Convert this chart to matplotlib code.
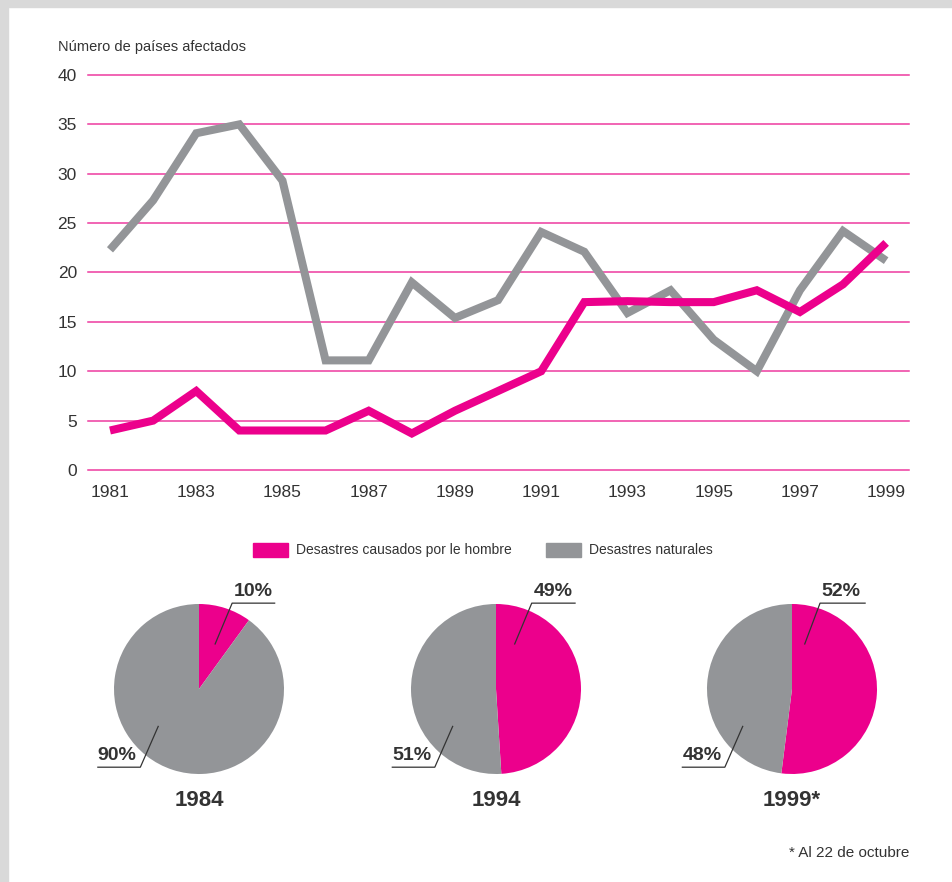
import matplotlib
matplotlib.use("Agg")
import matplotlib.pyplot as plt
from matplotlib.patches import Patch, Rectangle

# data
years = list(range(1981, 2000))
man_made = [4, 5, 8, 4, 4, 4, 6, 3.7, 6, 8, 10, 17, 17.1, 17, 17, 18.2, 16, 18.8, 23]
natural = [22.3, 27.3, 34.1, 35, 29.3, 11.1, 11.1, 19, 15.4, 17.2, 24.1, 22.1, 15.9, 18.2, 13.2, 10, 18.2, 24.2, 21.2]
yticks = [0, 5, 10, 15, 20, 25, 30, 35, 40]
xticks = [1981, 1983, 1985, 1987, 1989, 1991, 1993, 1995, 1997, 1999]

pie_years = ["1984", "1994", "1999*"]
pie_man = [10, 49, 52]
pie_nat = [90, 51, 48]

series_names = ["Desastres causados por le hombre", "Desastres naturales"]

PINK = "#EC008C"
GRAY = "#939598"
GRID = "#EE3B9F"
TXT = "#333333"
SANS = ["Liberation Sans", "DejaVu Sans"]

W, H = 953, 882
fig = plt.figure(figsize=(W / 100, H / 100), dpi=100)


def fx(px):
    return px / W


def fy(py):
    return 1 - py / H


# light gray frame on the left and top
fig.patches.append(Rectangle((0, 0), fx(8), 1, transform=fig.transFigure, color="#D9D9D9", zorder=0))
fig.patches.append(Rectangle((0, fy(7)), 1, 7 / H, transform=fig.transFigure, color="#D9D9D9", zorder=0))

# line chart
ax = fig.add_axes([fx(88), fy(470), fx(909 - 88), (470 - 75) / H])
for v in yticks:
    ax.axhline(v, color=GRID, lw=1.1, zorder=1, clip_on=False)
ax.plot(years, natural, color=GRAY, lw=5.8, solid_joinstyle="miter", solid_capstyle="butt", zorder=3, clip_on=False)
ax.plot(years, man_made, color=PINK, lw=5.8, solid_joinstyle="miter", solid_capstyle="butt", zorder=4, clip_on=False)
ax.set_xlim(1980.49, 1999.53)
ax.set_ylim(0, 40)
ax.set_yticks(yticks)
ax.set_xticks(xticks)
ax.tick_params(length=0)
ax.tick_params(axis="y", pad=8)
ax.tick_params(axis="x", pad=11)
for lab in ax.get_xticklabels() + ax.get_yticklabels():
    lab.set_family(SANS)
    lab.set_fontsize(12.5)
    lab.set_color(TXT)
for s in ax.spines.values():
    s.set_visible(False)

fig.text(fx(58), fy(47), "Número de países afectados", family=SANS, fontsize=10.5,
         color=TXT, va="center", ha="left")

# legend
handles = [Patch(color=PINK), Patch(color=GRAY)]
fig.legend(handles, series_names, loc="center", bbox_to_anchor=(fx(483), fy(550)), ncol=2,
           frameon=False, handlelength=2.5, handleheight=1.2, handletextpad=0.58,
           columnspacing=2.45, prop={"family": SANS, "size": 10}, labelcolor=TXT)

# pies
centers = [199, 496, 792]
R = 85
cy = 689
# label layout in radius units: leader end x, y, underline x-range
pink_lab = [(0.19, 0.53, 0.39, 0.89), (0.22, 0.53, 0.42, 0.93), (0.15, 0.53, 0.33, 0.86)]
gray_lab = [(-0.48, -0.44, -1.19, -0.69), (-0.51, -0.44, -1.22, -0.72), (-0.58, -0.44, -1.29, -0.79)]

for i, cx in enumerate(centers):
    pax = fig.add_axes([fx(cx - R), fy(cy + R), 2 * R / W, 2 * R / H])
    pax.pie([pie_man[i], pie_nat[i]], colors=[PINK, GRAY], startangle=90, counterclock=False,
            radius=1, wedgeprops={"linewidth": 0})
    pax.set_xlim(-1, 1)
    pax.set_ylim(-1, 1)
    pax.set_aspect("auto")
    pax.axis("off")

    lx, ly, ux0, ux1 = pink_lab[i]
    uy = 1.01
    pax.plot([lx, ux0, ux1], [ly, uy, uy], color=TXT, lw=0.9, clip_on=False)
    pax.text(ux0 + 0.02, uy + 0.04, f"{pie_man[i]}%", family=SANS, weight="bold", fontsize=14,
             color=TXT, ha="left", va="bottom")

    lx, ly, ux0, ux1 = gray_lab[i]
    uy = -0.92
    pax.plot([lx, ux1, ux0], [ly, uy, uy], color=TXT, lw=0.9, clip_on=False)
    pax.text(ux0 + 0.0, uy + 0.04, f"{pie_nat[i]}%", family=SANS, weight="bold", fontsize=14,
             color=TXT, ha="left", va="bottom")

    fig.text(fx(cx), fy(801), pie_years[i], family=SANS, weight="bold", fontsize=16,
             color=TXT, ha="center", va="center")

fig.text(fx(909), fy(853), "* Al 22 de octubre", family=SANS, fontsize=11, color=TXT,
         ha="right", va="center")

fig.savefig("out.png", dpi=100, facecolor="white")
